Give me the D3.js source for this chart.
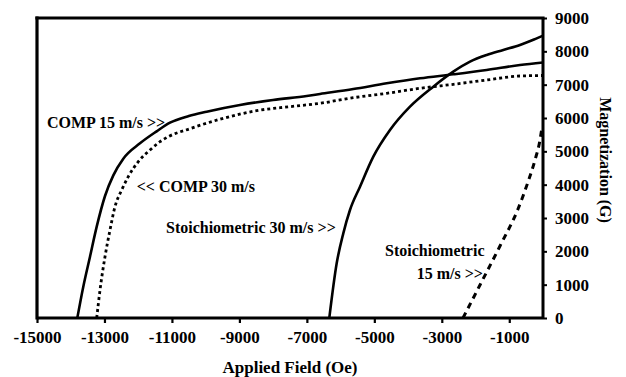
<!DOCTYPE html>
<html>
<head>
<meta charset="utf-8">
<script src="https://cdn.jsdelivr.net/npm/d3@7"></script>
<style>
  html, body { margin: 0; padding: 0; background: #fff; }
  svg { display: block; }
  text { font-family: "Liberation Serif", "Times New Roman", serif; font-weight: bold; fill: #000; }
</style>
</head>
<body>
<svg id="chart" width="626" height="377"></svg>
<script>
// Demagnetization curves: magnetization (G) versus applied field (Oe)
const xTicks = [-15000, -13000, -11000, -9000, -7000, -5000, -3000, -1000];
const yTicks = [0, 1000, 2000, 3000, 4000, 5000, 6000, 7000, 8000, 9000];

const comp15Field = [-13805, -13628, -13429, -13230, -12984, -12738, -12442, -11947, -11452, -11057, -10500, -9970, -8982, -8004, -7005, -6611, -5624, -4634, -3646, -2659, -1669, -682, 0];
const comp15Mag   = [0, 940, 1840, 2740, 3660, 4280, 4780, 5240, 5600, 5860, 6060, 6190, 6390, 6540, 6660, 6720, 6870, 7040, 7190, 7310, 7440, 7590, 7665];

const comp30Field = [-13230, -13132, -12984, -12836, -12688, -12489, -12294, -11997, -11650, -11354, -11108, -10465, -9477, -8487, -7500, -6611, -5624, -4634, -3646, -2659, -1669, -682, 0];
const comp30Mag   = [0, 840, 1840, 2640, 3340, 3840, 4240, 4690, 5040, 5290, 5440, 5680, 5990, 6220, 6340, 6441, 6609, 6741, 6891, 7011, 7140, 7260, 7275];

const stoich30Field = [-6335, -6116, -5920, -5722, -5425, -5030, -4536, -3943, -3252, -2659, -2164, -1669, -1177, -682, -187, 0];
const stoich30Mag   = [0, 1640, 2540, 3240, 3940, 4840, 5640, 6340, 6940, 7390, 7690, 7890, 8040, 8190, 8390, 8470];

const stoich15Field = [-2372, -1868, -1275, -741, -445, -237, -89, -40];
const stoich15Mag   = [0, 990, 2160, 3270, 4080, 4740, 5340, 5650];

const labelText  = ["COMP 15 m/s >>", "<< COMP 30 m/s", "Stoichiometric 30 m/s >>", "Stoichiometric", "15 m/s >>"];
const labelField = [-14704, -12045, -11176, -4684, -3744];
const labelMag   = [5700, 3780, 2540, 1860, 1180];

const svg = d3.select("#chart");
const x = d3.scaleLinear().domain([-15000, 0]).range([37, 543]);
const y = d3.scaleLinear().domain([0, 9000]).range([318, 18]);

const zip = (xs, ys) => xs.map((v, i) => [v, ys[i]]);
const line = d3.line().x(d => x(d[0])).y(d => y(d[1])).curve(d3.curveMonotoneX);

const series = [
  { pts: zip(comp15Field, comp15Mag), dash: null, w: 2.6 },
  { pts: zip(comp30Field, comp30Mag), dash: "3,3", w: 2.8 },
  { pts: zip(stoich30Field, stoich30Mag), dash: null, w: 2.6 },
  { pts: zip(stoich15Field, stoich15Mag), dash: "6,5", w: 3 }
];

svg.append("g").selectAll("path").data(series).join("path")
  .attr("d", d => line(d.pts))
  .attr("fill", "none")
  .attr("stroke", "#000")
  .attr("stroke-width", d => d.w)
  .attr("stroke-dasharray", d => d.dash);

// Frame: top border and left edge
svg.append("line").attr("x1", x(-15000)).attr("x2", x(0)).attr("y1", y(9000)).attr("y2", y(9000))
  .attr("stroke", "#000").attr("stroke-width", 3.2).attr("stroke-linecap", "square");
svg.append("line").attr("x1", x(-15000)).attr("x2", x(-15000)).attr("y1", y(9000)).attr("y2", y(0))
  .attr("stroke", "#000").attr("stroke-width", 3.2).attr("stroke-linecap", "square");

const fmt = d => String(d);

// Bottom axis
const gx = svg.append("g").attr("transform", `translate(0,${y(0)})`)
  .call(d3.axisBottom(x).tickValues(xTicks).tickSize(5).tickPadding(8).tickFormat(fmt));
gx.select(".domain").attr("stroke", "#000").attr("stroke-width", 3.2).attr("d", `M${x(-15000)},0H${x(0)}`);
gx.selectAll(".tick line").attr("stroke", "#000").attr("stroke-width", 2.2);
gx.selectAll(".tick text").attr("font-size", 17).attr("font-family", "Liberation Serif, serif").attr("font-weight", "bold").attr("fill", "#000");

// Right axis
const gy = svg.append("g").attr("transform", `translate(${x(0)},0)`)
  .call(d3.axisRight(y).tickValues(yTicks).tickSize(4).tickPadding(8).tickFormat(fmt));
gy.select(".domain").attr("stroke", "#000").attr("stroke-width", 3).attr("d", `M0,${y(0)}V${y(9000)}`);
gy.selectAll(".tick line").attr("stroke", "#000").attr("stroke-width", 2);
gy.selectAll(".tick text").attr("font-size", 17).attr("font-family", "Liberation Serif, serif").attr("font-weight", "bold").attr("fill", "#000");

// Axis titles
svg.append("text").attr("x", x(-7500)).attr("y", 373).attr("text-anchor", "middle")
  .attr("font-size", 17).text("Applied Field (Oe)");
svg.append("text").attr("transform", `translate(600,160) rotate(90)`).attr("text-anchor", "middle")
  .attr("font-size", 16).text("Magnetization (G)");

// Curve annotations
svg.append("g").selectAll("text").data(labelText).join("text")
  .attr("x", (d, i) => x(labelField[i])).attr("y", (d, i) => y(labelMag[i]))
  .attr("font-size", 16)
  .text(d => d);
</script>
</body>
</html>
